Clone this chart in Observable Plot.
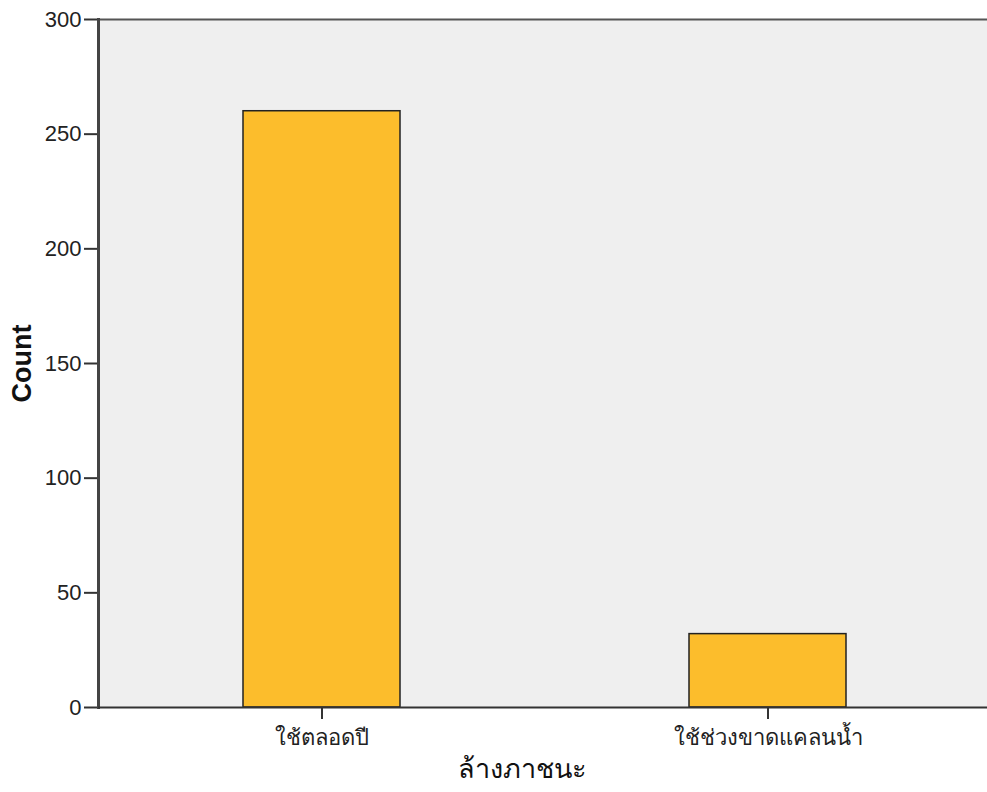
<!DOCTYPE html>
<html>
<head>
<meta charset="utf-8">
<script src="https://cdn.jsdelivr.net/npm/d3@7"></script>
<script src="https://cdn.jsdelivr.net/npm/@observablehq/plot@0.6"></script>
<style>
  html, body { margin: 0; padding: 0; background: #ffffff; }
  #chart { width: 987px; height: 792px; }
</style>
</head>
<body>
<div id="chart"></div>
<script>
const categories = ["ใช้ตลอดปี", "ใช้ช่วงขาดแคลนน้ำ"];
const counts = [260, 32];
const yTicks = [0, 50, 100, 150, 200, 250, 300];
const xTitle = "ล้างภาชนะ";
const yTitle = "Count";

const data = categories.map((c, i) => ({category: c, count: counts[i]}));
const font = "Tahoma, 'Liberation Sans', 'DejaVu Sans', sans-serif";

const chart = Plot.plot({
  width: 987,
  height: 792,
  marginLeft: 98,
  marginRight: 0,
  marginTop: 19,
  marginBottom: 85,
  style: {fontFamily: font, background: "#ffffff", color: "#222"},
  x: {domain: categories, paddingInner: 0.649, paddingOuter: 0.32, align: 0.506, label: null},
  y: {domain: [0, 300], label: null},
  marks: [
    Plot.frame({fill: "#efefef", stroke: null}),
    Plot.ruleY([300], {stroke: "#555", strokeWidth: 2}),
    Plot.barY(data, {x: "category", y: "count", fill: "#fcbd2c", stroke: "#222", strokeWidth: 1.5}),
    Plot.axisY(yTicks, {
      ticks: yTicks, tickSize: 14, tickPadding: 3, fontSize: 22, stroke: "#333", strokeWidth: 2,
      fill: "#222", label: null
    }),
    Plot.axisX({tickSize: 12, tickPadding: 10, fontSize: 22, stroke: "#333", strokeWidth: 2, fill: "#222", label: null}),
    Plot.frame({anchor: "left", stroke: "#444", strokeWidth: 3}),
    Plot.ruleY([0], {stroke: "#333", strokeWidth: 2}),
    Plot.text([yTitle], {frameAnchor: "left", textAnchor: "middle", dx: -76, rotate: -90, fontSize: 27, fontWeight: "bold", fill: "#111", text: d => d}),
    Plot.text([xTitle], {frameAnchor: "bottom", dx: -21, dy: 70, fontSize: 27, fill: "#111", text: d => d})
  ]
});
document.getElementById("chart").appendChild(chart);
</script>
</body>
</html>
